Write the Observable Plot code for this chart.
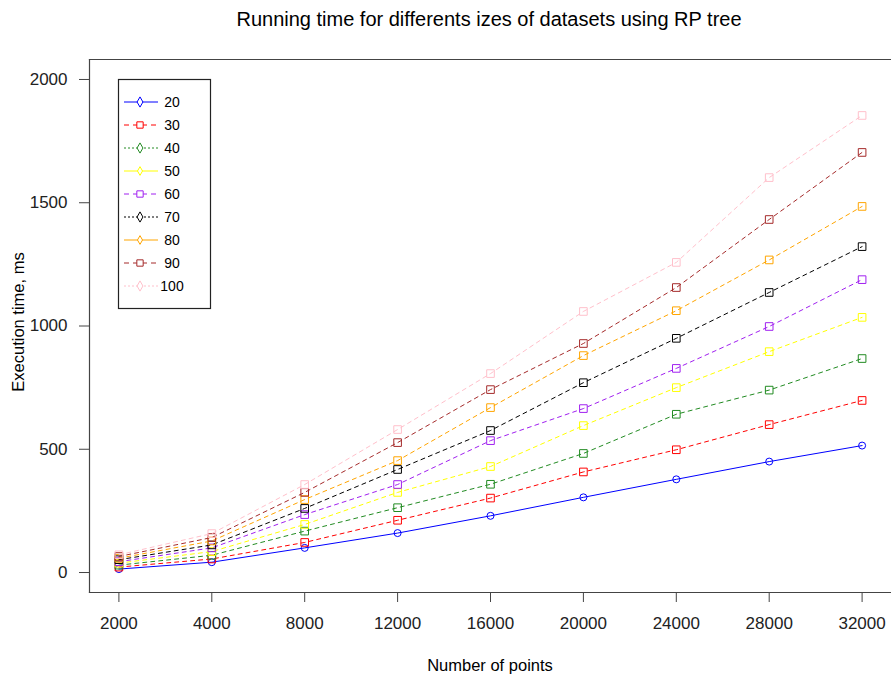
<!DOCTYPE html>
<html>
<head>
<meta charset="utf-8">
<script src="https://cdn.jsdelivr.net/npm/d3@7"></script>
<script src="https://cdn.jsdelivr.net/npm/@observablehq/plot@0.6"></script>
<style>
  html, body { margin: 0; padding: 0; background: #fff; }
  #chart { position: relative; width: 891px; height: 678px; }
  svg { font-family: "Liberation Sans", Arial, sans-serif; }
</style>
</head>
<body>
<div id="chart"></div>
<script>
const xLabels = ["2000","4000","8000","12000","16000","20000","24000","28000","32000"];
const seriesNames = ["20","30","40","50","60","70","80","90","100"];
const seriesColors = ["blue","red","forestgreen","yellow","#A020F0","black","orange","brown","pink"];
const yTicks = [0, 500, 1000, 1500, 2000];

const v20  = [14, 42, 100, 160, 230, 305, 378, 450, 515];
const v30  = [22, 55, 122, 212, 302, 408, 498, 600, 698];
const v40  = [30, 70, 168, 263, 358, 483, 642, 740, 868];
const v50  = [38, 85, 195, 325, 430, 596, 750, 896, 1035];
const v60  = [44, 100, 235, 357, 535, 665, 828, 998, 1188];
const v70  = [52, 112, 260, 418, 576, 770, 950, 1136, 1322];
const v80  = [58, 128, 296, 454, 669, 880, 1062, 1268, 1485];
const v90  = [65, 142, 325, 527, 742, 929, 1156, 1432, 1704];
const v100 = [72, 158, 357, 580, 807, 1059, 1258, 1602, 1854];
const allValues = [v20, v30, v40, v50, v60, v70, v80, v90, v100];

const W = 891, H = 678;
const mL = 89, mT = 59, mB = 86;

const lineMarks = [];
allValues.forEach((vals, i) => {
  const data = xLabels.map((x, j) => ({x, y: vals[j], s: seriesNames[i]}));
  lineMarks.push(Plot.line(data, {
    x: "x", y: "y", stroke: seriesColors[i], strokeWidth: 1,
    strokeDasharray: i === 0 ? null : "4,4"
  }));
  lineMarks.push(Plot.dot(data, {
    x: "x", y: "y", stroke: seriesColors[i], fill: "none", strokeWidth: 1,
    symbol: i === 0 ? "circle" : "square", r: i === 0 ? 3.5 : 4.3
  }));
});

const plot = Plot.plot({
  width: W, height: H,
  marginLeft: mL, marginTop: mT, marginBottom: mB, marginRight: 0,
  style: {fontFamily: "Liberation Sans, Arial, sans-serif", fontSize: "17px", color: "#222", background: "white"},
  x: {type: "point", domain: xLabels, padding: 0.3165, round: false, label: null},
  y: {domain: [-81, 2081], label: null},
  marks: [
    Plot.frame({anchor: "top", stroke: "#444", strokeWidth: 1.2}),
    Plot.frame({anchor: "left", stroke: "#444", strokeWidth: 1.2}),
    Plot.frame({anchor: "bottom", stroke: "#444", strokeWidth: 1.2}),
    Plot.axisX({tickSize: 10, tickPadding: 14, stroke: "#444", fontSize: 17, label: null}),
    Plot.axisY({ticks: yTicks, tickSize: 10, tickPadding: 12, stroke: "#444", fontSize: 17, label: null, tickFormat: d => String(d)}),
    ...lineMarks
  ]
});

document.getElementById("chart").appendChild(plot);

const svg = d3.select(plot);
// Title and axis titles
svg.append("text").attr("x", 489).attr("y", 26).attr("text-anchor", "middle")
  .attr("font-size", 20).attr("fill", "#000").text("Running time for differents izes of datasets using RP tree");
svg.append("text").attr("x", 490).attr("y", 671).attr("text-anchor", "middle")
  .attr("font-size", 16.5).attr("fill", "#000").text("Number of points");
svg.append("text").attr("transform", "translate(24,322) rotate(-90)").attr("text-anchor", "middle")
  .attr("font-size", 16.5).attr("fill", "#000").text("Execution time, ms");

// Legend
const lg = svg.append("g");
lg.append("rect").attr("x", 118.5).attr("y", 79.5).attr("width", 92).attr("height", 229)
  .attr("fill", "white").attr("stroke", "#222").attr("stroke-width", 1.2);
const ltyDash = ["", "5,4", "2,2"];
seriesNames.forEach((name, i) => {
  const y = 102 + i * 23;
  const lty = i % 3;
  lg.append("line").attr("x1", 124).attr("x2", 158).attr("y1", y).attr("y2", y)
    .attr("stroke", seriesColors[i]).attr("stroke-width", 1)
    .attr("stroke-dasharray", ltyDash[lty] || null);
  const sym = lty === 1 ? d3.symbolSquare : d3.symbolDiamond;
  const size = lty === 1 ? 40 : (lty === 0 && i > 0 ? 22 : 30);
  lg.append("path").attr("d", d3.symbol(sym, size)())
    .attr("transform", `translate(140,${y})`)
    .attr("fill", "white").attr("stroke", seriesColors[i]).attr("stroke-width", 1);
  lg.append("text").attr("x", 172).attr("y", y + 5).attr("font-size", 14)
    .attr("fill", "#000").text(name);
});
</script>
</body>
</html>
